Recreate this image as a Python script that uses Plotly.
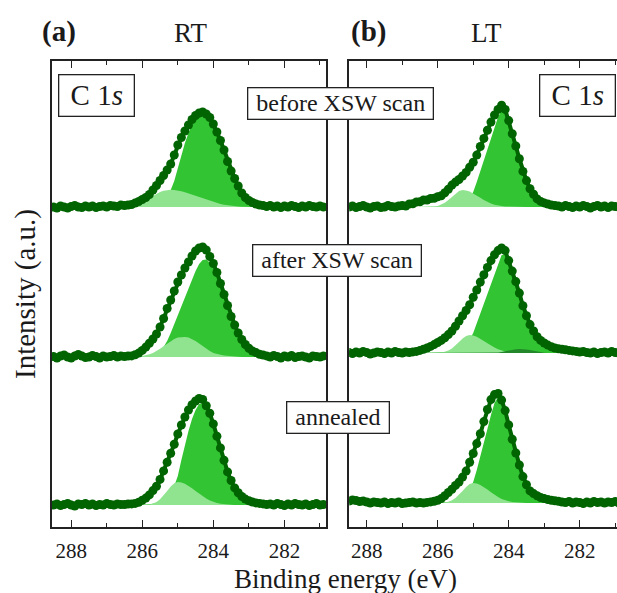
import plotly.graph_objects as go

# ---------------- data (binding energy grid, eV) ----------------
energy = [288.5, 288.4, 288.3, 288.2, 288.1, 288.0, 287.9, 287.8, 287.7, 287.6,
          287.5, 287.4, 287.3, 287.2, 287.1, 287.0, 286.9, 286.8, 286.7, 286.6,
          286.5, 286.4, 286.3, 286.2, 286.1, 286.0, 285.9, 285.8, 285.7, 285.6,
          285.5, 285.4, 285.3, 285.2, 285.1, 285.0, 284.9, 284.8, 284.7, 284.6,
          284.5, 284.4, 284.3, 284.2, 284.1, 284.0, 283.9, 283.8, 283.7, 283.6,
          283.5, 283.4, 283.3, 283.2, 283.1, 283.0, 282.9, 282.8, 282.7, 282.6,
          282.5, 282.4, 282.3, 282.2, 282.1, 282.0, 281.9, 281.8, 281.7, 281.6,
          281.5, 281.4, 281.3, 281.2, 281.1, 281.0, 280.9]
comp_energy = energy[19:60]  # 286.6 ... 282.6

# vertical offsets of the stacked spectra (a.u.)
offsets_RT = [3.20, 1.70, 0.22]
offsets_LT = [3.20, 1.74, 0.24]
labels_rows = ["before XSW scan", "after XSW scan", "annealed"]
tick_vals = [288, 286, 284, 282]
minor_vals = [287, 285, 283, 281]

# ---- RT, before XSW scan ----
data_RT_before = [0.00, -0.01, 0.01, 0.00, -0.01, 0.005, 0.015, 0.00, -0.005, 0.01,
                  0.00, 0.01, -0.005, 0.005, 0.01, 0.00, 0.015, 0.01, 0.005, 0.02,
                  0.015, 0.02, 0.025, 0.04, 0.055, 0.075, 0.095, 0.125, 0.17, 0.215,
                  0.265, 0.315, 0.37, 0.43, 0.52, 0.62, 0.695, 0.76, 0.82, 0.875,
                  0.915, 0.94, 0.95, 0.93, 0.895, 0.83, 0.75, 0.665, 0.57, 0.455,
                  0.36, 0.285, 0.21, 0.14, 0.095, 0.065, 0.045, 0.03, 0.02, 0.015,
                  0.005, 0.015, 0.00, 0.01, -0.005, 0.01, 0.00, 0.015, 0.005, -0.005,
                  0.01, 0.00, 0.015, 0.005, 0.00, 0.01, 0.00]
main_RT_before = [0, 0, 0, 0.001, 0.002, 0.003, 0.005, 0.008, 0.012, 0.018,
                  0.027, 0.042, 0.068, 0.11, 0.17, 0.26, 0.39, 0.53, 0.64, 0.74,
                  0.82, 0.875, 0.905, 0.91, 0.885, 0.845, 0.785, 0.715, 0.635, 0.545,
                  0.44, 0.35, 0.275, 0.205, 0.14, 0.095, 0.065, 0.045, 0.03, 0.02,
                  0.012]
shoulder_RT_before = [0, 0, 0.005, 0.01, 0.02, 0.03, 0.05, 0.07, 0.09, 0.115,
                      0.135, 0.15, 0.163, 0.17, 0.172, 0.17, 0.165, 0.157, 0.147, 0.135,
                      0.122, 0.108, 0.095, 0.082, 0.07, 0.058, 0.047, 0.037, 0.029, 0.022,
                      0.016, 0.011, 0.007, 0.004, 0.002, 0.001, 0, 0, 0, 0,
                      0]

# ---- RT, after XSW scan ----
data_RT_after = [0.005, -0.01, 0.01, 0.02, 0.0, -0.01, 0.01, 0.025, 0.01, -0.005,
                 0.0, 0.015, 0.005, -0.01, 0.01, 0.0, 0.005, 0.015, 0.0, 0.01,
                 0.005, 0.01, 0.011, 0.022, 0.039, 0.066, 0.099, 0.138, 0.18, 0.23,
                 0.30, 0.385, 0.485, 0.57, 0.66, 0.75, 0.82, 0.89, 0.95, 1.01,
                 1.06, 1.09, 1.10, 1.07, 1.005, 0.935, 0.845, 0.735, 0.625, 0.515,
                 0.405, 0.32, 0.24, 0.175, 0.125, 0.088, 0.06, 0.044, 0.028, 0.02,
                 0.011, 0.0, 0.015, 0.005, -0.01, 0.01, 0.0, 0.015, -0.005, 0.005,
                 0.01, 0.0, -0.01, 0.01, 0.005, 0.0, 0.01]
main_RT_after = [0, 0, 0, 0.001, 0.002, 0.003, 0.005, 0.008, 0.012, 0.02,
                 0.035, 0.06, 0.1, 0.16, 0.24, 0.33, 0.42, 0.51, 0.60, 0.69,
                 0.78, 0.86, 0.93, 0.97, 0.975, 0.945, 0.89, 0.815, 0.715, 0.61,
                 0.505, 0.40, 0.315, 0.235, 0.17, 0.12, 0.085, 0.058, 0.04, 0.026,
                 0.018]
shoulder_RT_after = [0, 0, 0.001, 0.002, 0.003, 0.006, 0.01, 0.017, 0.027, 0.041,
                     0.06, 0.082, 0.108, 0.135, 0.16, 0.181, 0.195, 0.2, 0.2, 0.195,
                     0.181, 0.16, 0.135, 0.108, 0.082, 0.06, 0.041, 0.03, 0.022, 0.016,
                     0.011, 0.007, 0.004, 0.002, 0.001, 0, 0, 0, 0, 0,
                     0]

# ---- RT, annealed ----
data_RT_annealed = [0.0, 0.01, -0.005, 0.005, 0.015, 0.0, -0.01, 0.01, 0.005, 0.015,
                    0.0, 0.01, -0.005, 0.005, 0.0, 0.015, 0.005, 0.0, 0.01, 0.005,
                    0.005, 0.01, 0.011, 0.016, 0.027, 0.048, 0.069, 0.101, 0.144, 0.187,
                    0.256, 0.341, 0.427, 0.517, 0.608, 0.71, 0.80, 0.88, 0.95, 1.003,
                    1.04, 1.065, 1.056, 0.992, 0.918, 0.811, 0.688, 0.571, 0.448, 0.331,
                    0.245, 0.171, 0.123, 0.085, 0.059, 0.043, 0.03, 0.021, 0.016, 0.011,
                    0.005, 0.01, 0.0, 0.015, 0.005, -0.005, 0.01, 0.0, 0.015, 0.005,
                    0.0, 0.01, -0.005, 0.005, 0.015, 0.0, 0.005]
main_RT_annealed = [0, 0, 0, 0, 0.001, 0.002, 0.003, 0.005, 0.008, 0.012,
                    0.018, 0.028, 0.045, 0.075, 0.12, 0.19, 0.29, 0.45, 0.6, 0.74,
                    0.86, 0.95, 1.01, 1.02, 0.96, 0.88, 0.785, 0.67, 0.56, 0.44,
                    0.326, 0.242, 0.17, 0.123, 0.085, 0.059, 0.043, 0.03, 0.021, 0.016,
                    0.011]
shoulder_RT_annealed = [0, 0, 0, 0, 0, 0, 0.001, 0.003, 0.006, 0.015,
                        0.031, 0.057, 0.095, 0.14, 0.184, 0.218, 0.23, 0.225, 0.212, 0.192,
                        0.167, 0.14, 0.112, 0.086, 0.064, 0.046, 0.031, 0.02, 0.013, 0.008,
                        0.005, 0.003, 0.001, 0, 0, 0, 0, 0, 0, 0,
                        0]

# ---- LT, before XSW scan ----
data_LT_before = [0.0, 0.01, -0.005, 0.005, 0.015, 0.0, -0.01, 0.005, 0.01, -0.005,
                  0.0, 0.015, 0.005, 0.0, 0.01, 0.015, 0.01, 0.03, 0.032, 0.05,
                  0.052, 0.07, 0.07, 0.085, 0.088, 0.102, 0.112, 0.142, 0.178, 0.219,
                  0.249, 0.275, 0.31, 0.346, 0.397, 0.447, 0.519, 0.605, 0.686, 0.768,
                  0.849, 0.92, 0.976, 1.017, 0.976, 0.864, 0.732, 0.61, 0.483, 0.356,
                  0.264, 0.183, 0.127, 0.081, 0.056, 0.041, 0.03, 0.02, 0.015, 0.01,
                  0.0, 0.015, 0.005, -0.005, 0.01, 0.0, 0.015, 0.005, -0.01, 0.005,
                  0.015, 0.0, 0.01, -0.005, 0.01, 0.005, 0.0]
main_LT_before = [0, 0, 0, 0, 0, 0, 0.001, 0.002, 0.004, 0.006,
                  0.009, 0.014, 0.022, 0.035, 0.055, 0.09, 0.15, 0.25, 0.36, 0.47,
                  0.58, 0.69, 0.80, 0.90, 0.97, 0.95, 0.855, 0.727, 0.607, 0.481,
                  0.355, 0.263, 0.183, 0.127, 0.081, 0.056, 0.041, 0.03, 0.02, 0.015,
                  0.01]
shoulder_LT_before = [0, 0, 0, 0.001, 0.002, 0.005, 0.011, 0.023, 0.042, 0.07,
                      0.103, 0.136, 0.161, 0.17, 0.166, 0.154, 0.136, 0.115, 0.092, 0.07,
                      0.051, 0.035, 0.023, 0.014, 0.009, 0.005, 0.003, 0.001, 0, 0,
                      0, 0, 0, 0, 0, 0, 0, 0, 0, 0,
                      0]

# ---- LT, after XSW scan ----
data_LT_after = [0.005, -0.005, 0.01, 0.0, 0.015, 0.005, -0.01, 0.0, 0.01, 0.005,
                 -0.005, 0.01, 0.0, 0.015, 0.005, 0.0, 0.01, 0.005, 0.011, 0.016,
                 0.026, 0.037, 0.05, 0.066, 0.084, 0.105, 0.126, 0.152, 0.184, 0.22,
                 0.268, 0.32, 0.373, 0.425, 0.483, 0.557, 0.63, 0.709, 0.782, 0.856,
                 0.924, 0.982, 1.024, 1.05, 1.024, 0.924, 0.819, 0.714, 0.599, 0.473,
                 0.373, 0.284, 0.22, 0.163, 0.126, 0.10, 0.079, 0.063, 0.05, 0.042,
                 0.037, 0.032, 0.026, 0.021, 0.016, 0.01, 0.015, 0.005, 0.0, 0.01,
                 -0.005, 0.005, 0.01, 0.0, 0.015, 0.005, 0.0]
main_LT_after = [0, 0, 0, 0, 0, 0, 0.001, 0.002, 0.004, 0.007,
                 0.012, 0.02, 0.034, 0.055, 0.09, 0.135, 0.2, 0.3, 0.4, 0.5,
                 0.6, 0.7, 0.8, 0.9, 0.98, 0.98, 0.89, 0.785, 0.675, 0.56,
                 0.43, 0.33, 0.245, 0.185, 0.13, 0.095, 0.07, 0.05, 0.038, 0.028,
                 0.02]
shoulder_LT_after = [0, 0, 0, 0, 0, 0.001, 0.002, 0.005, 0.012, 0.024,
                     0.045, 0.074, 0.109, 0.144, 0.17, 0.18, 0.176, 0.163, 0.144, 0.121,
                     0.097, 0.074, 0.054, 0.037, 0.024, 0.015, 0.009, 0.005, 0.003, 0.001,
                     0, 0, 0, 0, 0, 0, 0, 0, 0, 0,
                     0]
third_LT_after = [0, 0, 0, 0, 0, 0, 0, 0, 0, 0,
                  0, 0, 0, 0, 0, 0, 0, 0, 0, 0,
                  0, 0, 0, 0.004, 0.01, 0.018, 0.026, 0.033, 0.038, 0.04,
                  0.039, 0.035, 0.029, 0.021, 0.013, 0.007, 0.003, 0.001, 0, 0,
                  0]

# ---- LT, annealed ----
data_LT_annealed = [0.02, 0.03, 0.025, 0.015, 0.02, 0.01, 0.0, 0.01, 0.005, 0.0,
                    0.01, -0.005, 0.005, 0.0, 0.01, -0.005, 0.0, 0.005, 0.01, 0.0,
                    0.005, 0.0, 0.006, 0.011, 0.017, 0.028, 0.044, 0.072, 0.105, 0.138,
                    0.176, 0.209, 0.259, 0.319, 0.407, 0.495, 0.594, 0.693, 0.814, 0.935,
                    1.034, 1.084, 1.095, 1.029, 0.924, 0.781, 0.638, 0.50, 0.38, 0.264,
                    0.182, 0.121, 0.094, 0.072, 0.055, 0.044, 0.035, 0.028, 0.022, 0.017,
                    0.01, 0.005, 0.015, 0.0, 0.01, 0.005, -0.005, 0.01, 0.0, 0.015,
                    0.005, 0.01, 0.0, 0.01, 0.005, 0.015, 0.0]
main_LT_annealed = [0, 0, 0, 0, 0, 0, 0.001, 0.002, 0.004, 0.007,
                    0.012, 0.02, 0.034, 0.058, 0.095, 0.145, 0.21, 0.33, 0.46, 0.6,
                    0.74, 0.88, 1.0, 1.06, 1.0, 0.9, 0.765, 0.628, 0.494, 0.377,
                    0.262, 0.18, 0.118, 0.088, 0.065, 0.048, 0.037, 0.029, 0.022, 0.017,
                    0.013]
shoulder_LT_annealed = [0, 0, 0, 0, 0, 0, 0.001, 0.002, 0.006, 0.013,
                        0.027, 0.05, 0.082, 0.121, 0.16, 0.189, 0.2, 0.195, 0.181, 0.16,
                        0.135, 0.108, 0.082, 0.06, 0.041, 0.027, 0.017, 0.01, 0.006, 0.003,
                        0.002, 0, 0, 0, 0, 0, 0, 0, 0, 0,
                        0]

zeros = [0] * len(comp_energy)
panels = {
    "RT": [(offsets_RT[0], data_RT_before, main_RT_before, shoulder_RT_before, zeros),
           (offsets_RT[1], data_RT_after, main_RT_after, shoulder_RT_after, zeros),
           (offsets_RT[2], data_RT_annealed, main_RT_annealed, shoulder_RT_annealed, zeros)],
    "LT": [(offsets_LT[0], data_LT_before, main_LT_before, shoulder_LT_before, zeros),
           (offsets_LT[1], data_LT_after, main_LT_after, shoulder_LT_after, third_LT_after),
           (offsets_LT[2], data_LT_annealed, main_LT_annealed, shoulder_LT_annealed, zeros)],
}
for rows in panels.values():
    for off, d, m, s, t in rows:
        assert len(d) == len(energy)
        assert len(m) == len(comp_energy) and len(s) == len(comp_energy) and len(t) == len(comp_energy)

# ---------------- styling ----------------
C_DATA = "#006400"
C_MAIN = "#33c433"
C_SHOULDER = "#90e490"
C_THIRD = "#23882a"
AX = "#222222"
TXT = "#1a1a1a"
FONT = "Liberation Serif"

fig = go.Figure()


def add_fill(xa, ya, off, comp, color):
    if max(comp) <= 0:
        return
    xs = list(comp_energy) + list(comp_energy[::-1])
    ys = [off + v for v in comp] + [off] * len(comp_energy)
    fig.add_trace(go.Scatter(x=xs, y=ys, xaxis=xa, yaxis=ya, mode="lines",
                             line=dict(width=0, color=color), fill="toself",
                             fillcolor=color, hoverinfo="skip"))


for (xa, ya), key in [(("x", "y"), "RT"), (("x2", "y2"), "LT")]:
    for off, d, m, s, t in panels[key]:
        add_fill(xa, ya, off, m, C_MAIN)
        add_fill(xa, ya, off, s, C_SHOULDER)
        add_fill(xa, ya, off, t, C_THIRD)
        fig.add_trace(go.Scatter(x=energy, y=[off + v for v in d], xaxis=xa, yaxis=ya,
                                 mode="lines+markers",
                                 line=dict(color=C_DATA, width=4),
                                 marker=dict(color=C_DATA, size=9)))

W, H = 617, 593
T, B = 61, 66


def px(x):
    return x / W


def py(y):
    return (H - B - y) / (H - T - B)


xcommon = dict(tickvals=tick_vals, ticks="inside", ticklen=7, tickwidth=1.3, tickcolor=AX,
               showline=True, linecolor=AX, linewidth=1.5, mirror="ticks",
               minor=dict(tickvals=minor_vals, ticks="inside", ticklen=4, tickwidth=1.2, tickcolor=AX),
               tickfont=dict(size=21, family=FONT, color=TXT), showgrid=False, zeroline=False,
               ticklabelstandoff=4)
ycommon = dict(range=[0, 4.66], showticklabels=False, ticks="", showline=True, linecolor=AX,
               linewidth=1.5, showgrid=False, zeroline=False, domain=[0, 1])

fig.update_layout(
    width=W, height=H, margin=dict(l=0, r=0, t=T, b=B),
    paper_bgcolor="white", plot_bgcolor="white", showlegend=False,
    font=dict(family=FONT, color=TXT),
    xaxis=dict(domain=[52 / W, 326 / W], range=[288.54, 280.83], anchor="y", **xcommon),
    xaxis2=dict(domain=[349.3 / W, 1.0], range=[288.49, 280.95], anchor="y2", **xcommon),
    yaxis=dict(anchor="x", mirror=True, **ycommon),
    yaxis2=dict(anchor="x2", mirror=False, **ycommon),
)

ann = []


def text(x, y, s, size, boxed=False, angle=0, pad=2):
    d = dict(x=px(x), y=py(y), xref="paper", yref="paper", text=s, showarrow=False,
             xanchor="center", yanchor="middle", textangle=angle,
             font=dict(size=size, family=FONT, color=TXT))
    if boxed:
        d.update(bgcolor="white", bordercolor=AX, borderwidth=1.3, borderpad=pad)
    ann.append(d)


text(59, 31, "<b>(a)</b>", 29)
text(190, 33, "RT", 27)
text(368, 31, "<b>(b)</b>", 29)
text(487, 33, "LT", 27)
text(96, 96, "&nbsp;C 1<i>s</i>&nbsp;", 29, boxed=True, pad=4)
text(577, 96, "&nbsp;C 1<i>s</i>&nbsp;", 29, boxed=True, pad=4)
text(340, 103, "&nbsp;" + labels_rows[0] + "&nbsp;", 24, boxed=True)
text(337, 260, "&nbsp;" + labels_rows[1] + "&nbsp;", 24, boxed=True)
text(338, 417, "&nbsp;" + labels_rows[2] + "&nbsp;", 24, boxed=True)
text(345, 579, "Binding energy (eV)", 27)
text(25, 294, "Intensity (a.u.)", 29, angle=-90)
fig.update_layout(annotations=ann)

fig.write_html("out.html")
